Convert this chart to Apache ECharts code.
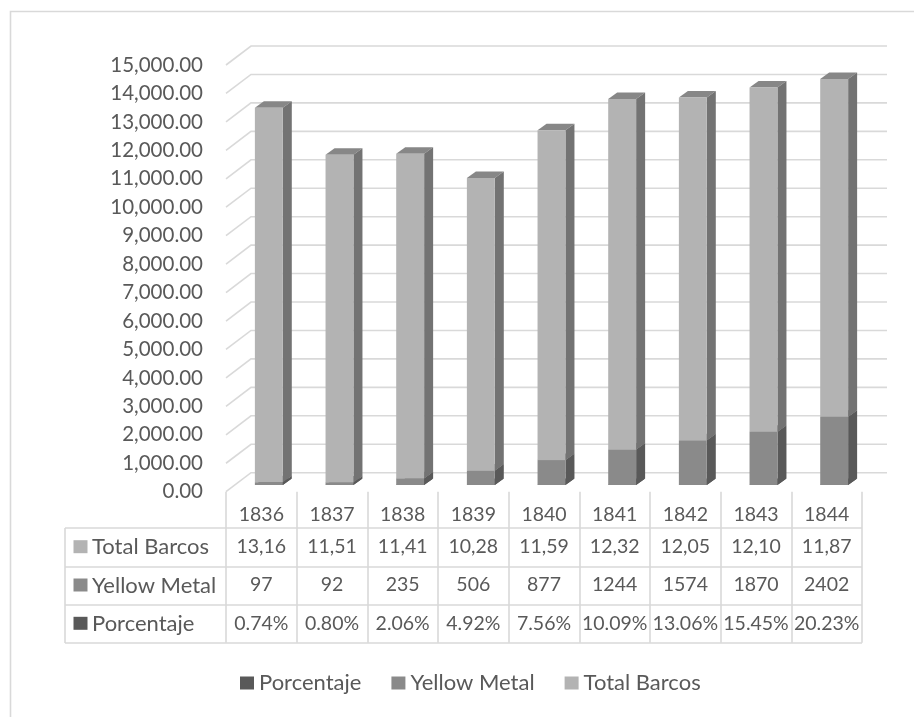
<!DOCTYPE html>
<html>
<head>
<meta charset="utf-8">
<script src="https://cdn.jsdelivr.net/npm/echarts@6/dist/echarts.min.js"></script>
<style>
  html, body { margin: 0; padding: 0; background: #ffffff; }
  #chart { width: 914px; height: 717px; }
</style>
</head>
<body>
<div id="chart"></div>
<script>
// Ship counts per year, with the yellow-metal sheathed subset and its share
const years = ['1836', '1837', '1838', '1839', '1840', '1841', '1842', '1843', '1844'];
const totalBarcos = [13165, 11515, 11410, 10285, 11596, 12329, 12052, 12104, 11873];
const yellowMetal = [97, 92, 235, 506, 877, 1244, 1574, 1870, 2402];
const porcentaje = [0.74, 0.80, 2.06, 4.92, 7.56, 10.09, 13.06, 15.45, 20.23];

const yMin = 0;
const yMax = 15000;
const yStep = 1000;

const FONT = 'Lato';
const TEXT = '#595959';
const GRID_LINE = '#d9d9d9';
const NUM_SIZE = 19.5;   // numbers in the data table
const WORD_SIZE = 22;    // row names and legend

// Pseudo-3D offsets (px): bar front face from the floor edge, bar depth, back wall depth
const BAR_DX = 7.5, BAR_DY = -6.7;
const DEPTH_DX = 9, DEPTH_DY = -6.5;
const WALL_DX = 25, WALL_DY = -19;

const chart = echarts.init(document.getElementById('chart'));

// stacked segments: [categoryIndex, base, top]
function stackSegments(values, baseArr) {
  return values.map((v, i) => [i, baseArr[i], baseArr[i] + v]);
}
const pctValues = porcentaje.map(p => p / 100);
const base0 = years.map(() => 0);
const segPct = stackSegments(pctValues, base0);
const segYellow = stackSegments(yellowMetal, segPct.map(s => s[2]));
const segTotal = stackSegments(totalBarcos, segYellow.map(s => s[2]));

function columnRenderer(front, side, top) {
  return function (params, api) {
    const i = api.value(0);
    const p0 = api.coord([i, api.value(1)]);
    const p1 = api.coord([i, api.value(2)]);
    const bw = api.size([1, 0])[0];
    const w = bw * 0.395;
    const xl = p0[0] + BAR_DX - w / 2;
    const xr = xl + w;
    const yb = p0[1] + BAR_DY;
    const yt = p1[1] + BAR_DY;
    return {
      type: 'group',
      children: [
        { type: 'polygon', shape: { points: [[xl, yt], [xl + DEPTH_DX, yt + DEPTH_DY], [xr + DEPTH_DX, yt + DEPTH_DY], [xr, yt]] }, style: { fill: top } },
        { type: 'polygon', shape: { points: [[xr, yt], [xr + DEPTH_DX, yt + DEPTH_DY], [xr + DEPTH_DX, yb + DEPTH_DY], [xr, yb]] }, style: { fill: side } },
        { type: 'rect', shape: { x: xl, y: yt, width: w, height: Math.max(0, yb - yt) }, style: { fill: front } }
      ]
    };
  };
}

// back wall: one polyline per value tick (floor-edge diagonal + horizontal wall line)
const wallTicks = [];
for (let v = yMin; v <= yMax; v += yStep) wallTicks.push([0, v]);

function wallRenderer(params, api) {
  const c = api.coord([0, api.value(1)]);
  const bw = api.size([1, 0])[0];
  const x0 = c[0] - bw / 2;
  const x1 = x0 + bw * years.length + WALL_DX;
  return {
    type: 'polyline',
    shape: { points: [[x0, c[1]], [x0 + WALL_DX, c[1] + WALL_DY], [x1, c[1] + WALL_DY]] },
    style: { stroke: GRID_LINE, lineWidth: 1.6, fill: null }
  };
}

function fmt2(v) {
  return v.toLocaleString('en-US', { minimumFractionDigits: 2, maximumFractionDigits: 2 });
}

function tableAxis(margin, formatter, extra) {
  return Object.assign({
    type: 'category',
    gridIndex: 0,
    position: 'bottom',
    data: years,
    boundaryGap: true,
    axisLine: { show: false },
    axisTick: { show: false },
    splitLine: { show: false },
    axisLabel: {
      interval: 0,
      margin: margin,
      verticalAlign: 'middle',
      align: 'center',
      fontFamily: FONT,
      fontSize: NUM_SIZE,
      color: TEXT,
      formatter: formatter
    }
  }, extra || {});
}

// table layout (px)
const TABLE_LEFT = 65;
const TABLE_RIGHT = 862;
const rowLines = [528, 567, 605, 643];
const rowCenters = [546.7, 585, 623.3];
const rowNames = ['Total Barcos', 'Yellow Metal', 'Porcentaje'];
const rowColors = ['#b3b3b3', '#8a8a8a', '#595959'];

const graphics = [
  { type: 'rect', shape: { x: 10.5, y: 11.5, width: 1000, height: 1000 }, style: { fill: null, stroke: GRID_LINE, lineWidth: 1.6 }, silent: true },
  { type: 'line', shape: { x1: TABLE_LEFT, y1: rowLines[0], x2: TABLE_LEFT, y2: rowLines[3] }, style: { stroke: GRID_LINE, lineWidth: 1.6 } }
];
rowLines.forEach(y => {
  graphics.push({ type: 'line', shape: { x1: TABLE_LEFT, y1: y, x2: TABLE_RIGHT, y2: y }, style: { stroke: GRID_LINE, lineWidth: 1.6 } });
});
rowNames.forEach((name, k) => {
  graphics.push({ type: 'rect', shape: { x: 73.5, y: rowCenters[k] - 6.5, width: 14, height: 13 }, style: { fill: rowColors[k] } });
  graphics.push({ type: 'text', x: 92, y: rowCenters[k] + 0.5, style: { text: name, fontFamily: FONT, fontSize: WORD_SIZE, fill: TEXT, verticalAlign: 'middle', align: 'left' } });
});

const option = {
  animation: false,
  backgroundColor: '#ffffff',
  grid: { left: 226, right: 52, top: 65, bottom: 225.3 },
  xAxis: [
    tableAxis(23.3, (v) => v, {
      axisTick: { show: true, interval: 0, length: 151, lineStyle: { color: GRID_LINE, width: 1.6 } }
    }),
    tableAxis(55, (v, i) => fmt2(totalBarcos[i])),
    tableAxis(93.3, (v, i) => String(yellowMetal[i])),
    tableAxis(131.6, (v, i) => porcentaje[i].toFixed(2) + '%')
  ],
  yAxis: {
    type: 'value',
    min: yMin,
    max: yMax,
    interval: yStep,
    axisLine: { show: false },
    axisTick: { show: false },
    splitLine: { show: false },
    axisLabel: {
      margin: 23,
      fontFamily: FONT,
      fontSize: 20.5,
      color: TEXT,
      formatter: (v) => fmt2(v)
    }
  },
  legend: {
    data: ['Porcentaje', 'Yellow Metal', 'Total Barcos'],
    left: 235,
    top: 667,
    icon: 'rect',
    itemWidth: 14,
    itemHeight: 13,
    itemGap: 30,
    textStyle: { fontFamily: FONT, fontSize: WORD_SIZE, color: TEXT },
    selectedMode: false
  },
  graphic: graphics,
  series: [
    {
      name: 'wall',
      type: 'custom',
      silent: true,
      z: 1,
      renderItem: wallRenderer,
      encode: { x: 0, y: 1 },
      data: wallTicks
    },
    {
      name: 'Porcentaje',
      type: 'custom',
      z: 2,
      itemStyle: { color: '#595959' },
      renderItem: columnRenderer('#595959', '#404040', '#4d4d4d'),
      encode: { x: 0, y: [1, 2] },
      data: segPct
    },
    {
      name: 'Yellow Metal',
      type: 'custom',
      z: 3,
      itemStyle: { color: '#8a8a8a' },
      renderItem: columnRenderer('#8a8a8a', '#595959', '#6e6e6e'),
      encode: { x: 0, y: [1, 2] },
      data: segYellow
    },
    {
      name: 'Total Barcos',
      type: 'custom',
      z: 4,
      itemStyle: { color: '#b3b3b3' },
      renderItem: columnRenderer('#b3b3b3', '#737373', '#878787'),
      encode: { x: 0, y: [1, 2] },
      data: segTotal
    }
  ]
};

// Total Barcos cells are narrower than their formatted values; clip without ellipsis
option.xAxis[1].axisLabel.width = 55;
option.xAxis[1].axisLabel.overflow = 'truncate';
option.xAxis[1].axisLabel.ellipsis = '';

chart.setOption(option);
</script>
</body>
</html>
